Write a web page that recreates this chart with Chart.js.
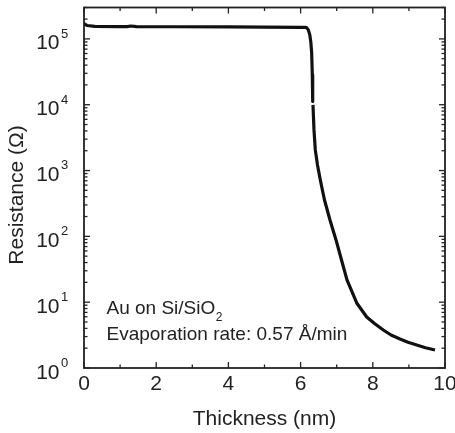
<!DOCTYPE html>
<html>
<head>
<meta charset="utf-8">
<script src="https://cdn.jsdelivr.net/npm/chart.js@4.4.1/dist/chart.umd.min.js"></script>
<style>
html,body{margin:0;padding:0;background:#fff;}
#wrap{width:455px;height:433px;position:relative;}
</style>
</head>
<body>
<div id="wrap"><canvas id="c" width="455" height="433"></canvas></div>
<script>
// ---- data ----
const thickness = [0, 0.08, 0.3, 1.0, 1.2, 1.3, 1.45, 2.5, 4.0, 5.0, 6.0, 6.12, 6.163, 6.213, 6.255, 6.283, 6.307, 6.324, 6.335, 6.339,
  6.343, 6.371, 6.407, 6.468, 6.546, 6.662, 6.814, 6.981, 7.133, 7.285, 7.554, 7.831, 8.047, 8.291, 8.504, 8.753, 8.975, 9.216, 9.46, 9.723];
const resistance = [1.70e5, 1.60e5, 1.55e5, 1.54e5, 1.54e5, 1.57e5, 1.54e5, 1.53e5, 1.52e5, 1.51e5, 1.50e5, 1.50e5, 1.49e5, 1.37e5, 1.15e5, 9.0e4, 6.06e4, 2.84e4, 1.12e4, null,
  9.93e3, 4.14e3, 2.06e3, 1217, 720, 357, 177.5, 88.2, 43.8, 21.8, 9.72, 5.96, 4.75, 3.78, 3.17, 2.76, 2.46, 2.24, 2.035, 1.88];
const xTickValues = [0, 2, 4, 6, 8, 10];
const yTickExponents = [0, 1, 2, 3, 4, 5];
const xAxisTitle = 'Thickness (nm)';
const yAxisTitle = 'Resistance (Ω)';
const noteLine1 = 'Au on Si/SiO';
const noteLine1Sub = '2';
const noteLine2 = 'Evaporation rate: 0.57 Å/min';

const FONT = '"Liberation Sans", Arial, Helvetica, sans-serif';
const INK = '#222';

const points = thickness.map((t, i) => ({x: t, y: resistance[i]}));

function seg(ctx, x1, y1, x2, y2) {
  ctx.beginPath(); ctx.moveTo(x1, y1); ctx.lineTo(x2, y2); ctx.stroke();
}

const framePlugin = {
  id: 'frame',
  afterDraw(chart) {
    const {ctx, chartArea: a, scales: {x, y}} = chart;
    ctx.save();
    ctx.strokeStyle = INK;
    ctx.lineWidth = 1.8;
    ctx.strokeRect(a.left, a.top, a.right - a.left, a.bottom - a.top);
    ctx.lineWidth = 1.3;
    // x ticks (inward, bottom & top)
    for (let v = x.min; v <= x.max; v++) {
      const px = x.getPixelForValue(v);
      const len = xTickValues.includes(v) ? 6 : 3.5;
      seg(ctx, px, a.bottom, px, a.bottom - len);
      seg(ctx, px, a.top, px, a.top + len);
    }
    // y ticks (inward, left & right)
    for (let e = 0; e <= 5; e++) {
      for (let m = 1; m <= 9; m++) {
        const v = m * Math.pow(10, e);
        if (v > y.max + 1e-6) break;
        const py = y.getPixelForValue(v);
        const len = m === 1 ? 6 : 3.5;
        seg(ctx, a.left, py, a.left + len, py);
        seg(ctx, a.right, py, a.right - len, py);
      }
    }
    // y tick labels 10^n
    ctx.fillStyle = INK;
    ctx.textBaseline = 'alphabetic';
    yTickExponents.forEach(e => {
      const py = y.getPixelForValue(Math.pow(10, e));
      ctx.font = '21px ' + FONT;
      ctx.textAlign = 'right';
      ctx.fillText('10', a.left - 24.5, py + 10.5);
      ctx.font = '13px ' + FONT;
      ctx.textAlign = 'left';
      ctx.fillText(String(e), a.left - 23, py - 1.2);
    });
    // y axis title
    ctx.save();
    ctx.translate(17.5, 195);
    ctx.rotate(-Math.PI / 2);
    ctx.font = '21px ' + FONT;
    ctx.textAlign = 'center';
    ctx.textBaseline = 'middle';
    ctx.fillText(yAxisTitle, 0, 0);
    ctx.restore();
    // annotation
    ctx.font = '19px ' + FONT;
    ctx.textAlign = 'left';
    const tx = a.left + 22.5;
    ctx.fillText(noteLine1, tx, 314);
    const w = ctx.measureText(noteLine1).width;
    ctx.font = '12px ' + FONT;
    ctx.fillText(noteLine1Sub, tx + w + 0.5, 321);
    ctx.font = '19px ' + FONT;
    ctx.fillText(noteLine2, tx, 340);
    ctx.restore();
  }
};

new Chart(document.getElementById('c'), {
  type: 'line',
  data: {
    datasets: [{
      data: points,
      borderColor: '#111',
      borderWidth: 3.2,
      pointRadius: 0,
      tension: 0,
      borderJoinStyle: 'round',
      spanGaps: false,
      fill: false
    }]
  },
  options: {
    responsive: false,
    devicePixelRatio: 1,
    animation: false,
    layout: {autoPadding: false, padding: {top: 7.5, right: 10, bottom: 0, left: 0}},
    plugins: {legend: {display: false}, tooltip: {enabled: false}},
    scales: {
      x: {
        type: 'linear',
        min: 0, max: 10,
        grid: {display: false, drawTicks: false},
        border: {display: false},
        ticks: {
          stepSize: 1,
          autoSkip: false,
          maxRotation: 0,
          padding: 4,
          color: INK,
          font: {family: FONT, size: 21},
          callback: v => xTickValues.includes(v) ? String(v) : ''
        },
        title: {display: true, text: xAxisTitle, color: INK, font: {family: FONT, size: 21}, padding: {top: 0, bottom: 1.4}},
        afterFit: s => { s.height = 65; s.paddingLeft = 0; s.paddingRight = 0; }
      },
      y: {
        type: 'logarithmic',
        min: 1, max: 3e5,
        grid: {display: false, drawTicks: false},
        border: {display: false},
        ticks: {display: false},
        afterFit: s => { s.width = 84; }
      }
    }
  },
  plugins: [framePlugin]
});
</script>
</body>
</html>
